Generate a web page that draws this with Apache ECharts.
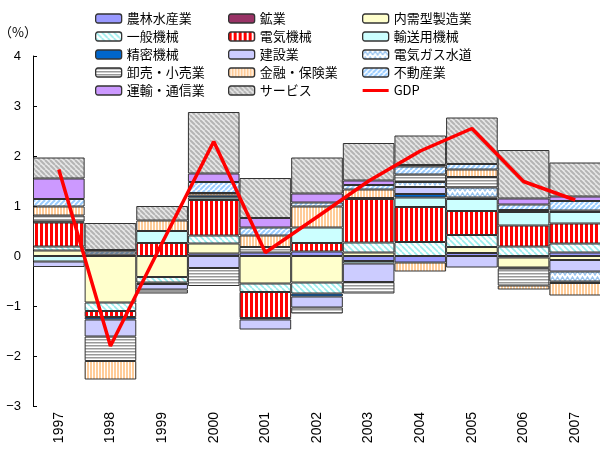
<!DOCTYPE html>
<html><head><meta charset="utf-8">
<script src="https://cdn.jsdelivr.net/npm/echarts@6/dist/echarts.min.js"></script>
<style>html,body{margin:0;padding:0;background:#fff}#c{width:600px;height:450px}</style>
</head><body><div id="c"></div>
<script>
const years = ['1997','1998','1999','2000','2001','2002','2003','2004','2005','2006','2007'];
const agriculture   = [0, 0, 0, 0.05, 0.07, 0.09, -0.10, -0.13, 0.06, -0.03, 0.07];
const mining        = [0, 0, 0, 0, 0, 0, 0, 0, 0, 0, 0];
const domesticMfg   = [0.11, -0.93, -0.42, 0.20, -0.55, -0.53, 0.07, 0, 0.12, -0.20, -0.08];
const generalMach   = [0.08, -0.17, -0.11, 0.16, -0.17, -0.22, 0.20, 0.28, 0.24, 0.19, 0.18];
const electricMach  = [0.48, -0.12, 0.26, 0.71, -0.52, 0.17, 0.87, 0.70, 0.48, 0.42, 0.40];
const transportMach = [-0.11, 0.03, 0.24, 0.05, 0, 0.31, -0.05, 0.19, 0.24, 0.27, 0.23];
const precisionMach = [0.02, -0.05, -0.03, 0.04, -0.03, -0.06, 0.02, 0.07, 0.03, 0.04, 0.03];
const construction  = [-0.11, -0.34, -0.11, -0.24, -0.20, -0.22, -0.37, 0.14, -0.23, -0.02, -0.23];
const utilities     = [0, 0, 0, 0, 0, 0, 0, 0.10, 0.20, 0, -0.20];
const trade         = [0.12, -0.49, -0.08, -0.36, 0.11, -0.12, -0.23, 0.15, 0.21, -0.34, -0.03];
const finance       = [0.18, -0.37, 0.21, 0.05, 0.23, 0.42, 0.17, -0.18, 0.15, -0.08, -0.25];
const realEstate    = [0.15, 0.06, 0, 0.22, 0.16, 0.08, 0.09, 0.16, 0.11, 0.11, 0.19];
const transportComm = [0.41, 0.03, 0, 0.17, 0.19, 0.18, 0.09, 0.03, 0, 0.12, 0.09];
const services      = [0.42, 0.54, 0.29, 1.23, 0.80, 0.72, 0.75, 0.59, 0.93, 0.97, 0.68];
const gdp           = [1.73, -1.80, 0.26, 2.29, 0.07, 0.78, 1.50, 2.10, 2.55, 1.49, 1.12];
const yTicks = [-3, -2, -1, 0, 1, 2, 3, 4];

function pat(w, h, draw) {
  const c = document.createElement('canvas'); c.width = w; c.height = h;
  const g = c.getContext('2d'); draw(g, w, h);
  return { image: c, repeat: 'repeat' };
}
function diag(bg, fg, s, lw, dir) {
  return pat(s, s, (g) => {
    g.fillStyle = bg; g.fillRect(0, 0, s, s);
    g.strokeStyle = fg; g.lineWidth = lw;
    for (let k = -1; k <= 1; k++) {
      g.beginPath();
      if (dir > 0) { g.moveTo(k * s, 0); g.lineTo(k * s + s, s); }
      else { g.moveTo(k * s, s); g.lineTo(k * s + s, 0); }
      g.stroke();
    }
  });
}
const fills = {
  agriculture: '#9999ff',
  mining: '#993366',
  domesticMfg: '#ffffcc',
  generalMach: diag('#ffffff', '#99eeee', 6, 1.6, 1),
  electricMach: pat(5, 1, (g) => { g.fillStyle = '#fff'; g.fillRect(0,0,5,1); g.fillStyle = '#ff0000'; g.fillRect(0,0,3,1); }),
  transportMach: '#ccffff',
  precisionMach: '#0066cc',
  construction: '#ccccff',
  utilities: pat(10, 6, (g) => { g.fillStyle = '#fff'; g.fillRect(0,0,10,6); g.strokeStyle = '#99c4f0'; g.lineWidth = 1.4;
    g.beginPath(); g.moveTo(0,5); g.lineTo(2.5,1); g.lineTo(5,5); g.lineTo(7.5,1); g.lineTo(10,5); g.stroke(); }),
  trade: pat(1, 3, (g) => { g.fillStyle = '#999'; g.fillRect(0,0,1,1); g.fillStyle = '#ccc'; g.fillRect(0,1,1,1); g.fillStyle = '#fff'; g.fillRect(0,2,1,1); }),
  finance: pat(3, 1, (g) => { g.fillStyle = '#fff'; g.fillRect(0,0,3,1); g.fillStyle = '#ffcc99'; g.fillRect(0,0,2,1); }),
  realEstate: diag('#ffffff', '#99ccff', 5, 2, -1),
  transportComm: '#cc99ff',
  services: diag('#e8e8e8', '#b4b4b4', 5, 2, 1)
};
const barDefs = [
  ['農林水産業', agriculture, fills.agriculture],
  ['鉱業', mining, fills.mining],
  ['内需型製造業', domesticMfg, fills.domesticMfg],
  ['一般機械', generalMach, fills.generalMach],
  ['電気機械', electricMach, fills.electricMach],
  ['輸送用機械', transportMach, fills.transportMach],
  ['精密機械', precisionMach, fills.precisionMach],
  ['建設業', construction, fills.construction],
  ['電気ガス水道', utilities, fills.utilities],
  ['卸売・小売業', trade, fills.trade],
  ['金融・保険業', finance, fills.finance],
  ['不動産業', realEstate, fills.realEstate],
  ['運輸・通信業', transportComm, fills.transportComm],
  ['サービス', services, fills.services]
];
const series = barDefs.map(([name, data, color]) => ({
  name, type: 'bar', stack: 'all', barWidth: '100%', barCategoryGap: '0%',
  data: data.map(v => v === 0 ? '-' : v),
  itemStyle: { color, borderColor: '#333', borderWidth: 1 }
}));
series.push({
  name: 'GDP', type: 'line', data: gdp, symbol: 'none', z: 10,
  lineStyle: { color: '#ff0000', width: 3.5 }, itemStyle: { color: '#ff0000' }
});
const legendCommon = { orient: 'vertical', itemWidth: 26, itemHeight: 9, itemGap: 5, top: 12, padding: 0,
  itemStyle: { borderColor: '#333', borderWidth: 1.3 },
  textStyle: { fontSize: 13, color: '#000', fontFamily: '"Noto Sans CJK JP", sans-serif' } };
const chart = echarts.init(document.getElementById('c'), null, { renderer: 'canvas' });
chart.setOption({
  animation: false,
  legend: [
    Object.assign({ left: 95, data: ['農林水産業','一般機械','精密機械','卸売・小売業','運輸・通信業'] }, legendCommon),
    Object.assign({ left: 228, data: ['鉱業','電気機械','建設業','金融・保険業','サービス'] }, legendCommon),
    Object.assign({ left: 362, data: ['内需型製造業','輸送用機械','電気ガス水道','不動産業',
      { name: 'GDP', icon: 'path://M0,0L0.01,0M0,3L26,3L26,6L0,6ZM0,9L0.01,9', itemStyle: { color: '#ff0000', borderWidth: 0 } }] }, legendCommon)
  ],
  grid: { left: 33, top: 56, width: 568, bottom: 44, containLabel: false, outerBoundsMode: 'none' },
  xAxis: { type: 'category', data: years, boundaryGap: true,
    axisLine: { show: false, onZero: false }, axisTick: { show: false },
    axisLabel: { rotate: 90, margin: 6, fontSize: 14, color: '#000', fontFamily: 'Liberation Sans, Arial, sans-serif' } },
  yAxis: { type: 'value', min: yTicks[0], max: yTicks[yTicks.length - 1], interval: 1,
    name: '（%）', nameLocation: 'end', nameGap: 24,
    nameTextStyle: { align: 'right', verticalAlign: 'middle', fontSize: 13, color: '#000', fontFamily: '"Noto Sans CJK JP", sans-serif', padding: [0, -4, 0, 0] },
    axisLine: { show: true, lineStyle: { color: '#000', width: 1 } },
    axisTick: { show: true, inside: true, length: 4, lineStyle: { color: '#000' } },
    splitLine: { show: false },
    axisLabel: { fontSize: 13, color: '#000', margin: 12, fontFamily: 'Liberation Sans, Arial, sans-serif',
      formatter: v => v < 0 ? '−' + Math.abs(v) : String(v) } },
  series
});
</script></body></html>
